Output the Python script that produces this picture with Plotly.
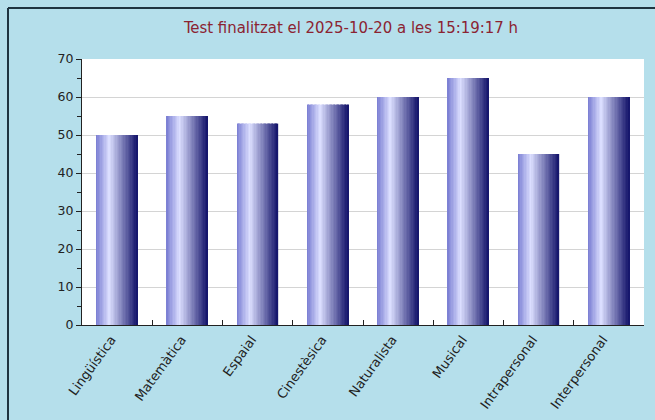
import plotly.graph_objects as go

categories = ["Lingüística", "Matemàtica", "Espaial", "Cinestèsica",
              "Naturalista", "Musical", "Intrapersonal", "Interpersonal"]
values = [50, 55, 53, 58, 60, 65, 45, 60]
title_text = "Test finalitzat el 2025-10-20 a les 15:19:17 h"

W, H = 655, 420
ML, MR, MT, MB = 82, 11, 59, 95

# gradient stops (position, rgb)
stops = [(0.0, (120, 124, 210)), (0.32, (220, 223, 255)), (1.0, (18, 18, 105))]

def col(t):
    for (p0, c0), (p1, c1) in zip(stops[:-1], stops[1:]):
        if p0 <= t <= p1:
            f = (t - p0) / (p1 - p0)
            return "rgb(%d,%d,%d)" % tuple(round(a + (b - a) * f) for a, b in zip(c0, c1))
    return "rgb(%d,%d,%d)" % stops[-1][1]

fig = go.Figure()
bw = 0.585
N = 30
sw = bw / N
for i in range(N):
    fig.add_trace(go.Bar(
        x=categories, y=values,
        width=sw * 1.15 if i < N - 1 else sw,
        offset=-bw / 2 + i * sw,
        marker=dict(color=col((i + 0.5) / N), line=dict(width=0)),
        showlegend=False, hoverinfo="skip",
    ))

pw = W - ML - MR
ph = H - MT - MB
def px(x):
    return (x - ML) / pw
def py(y):
    return (H - MB - y) / ph

fig.update_layout(
    width=W, height=H,
    margin=dict(l=ML, r=MR, t=MT, b=MB),
    barmode="overlay",
    paper_bgcolor="#b5dfeb",
    plot_bgcolor="white",
    font=dict(family="DejaVu Sans", size=12, color="#222222"),
    title=dict(text=title_text, x=px(351), xref="paper", xanchor="center",
               y=1 - 27 / H, yanchor="middle",
               font=dict(family="DejaVu Sans Condensed", size=16.6, color="#8b2331")),
    xaxis=dict(showline=True, linecolor="#222222", linewidth=1,
               ticks="inside", tickson="boundaries", ticklen=5, tickcolor="#222222",
               tickangle=-54, showgrid=False, tickfont=dict(size=13),
               ticklabelshift=-6, ticklabelstandoff=1, automargin=False),
    yaxis=dict(range=[0, 70], dtick=10, showline=True, linecolor="#222222",
               ticks="outside", ticklen=5, tickcolor="#222222",
               showgrid=True, gridcolor="#d4d4d4", gridwidth=1, zeroline=False,
               minor=dict(dtick=5, ticks="outside", ticklen=4, tickcolor="#222222", showgrid=False),
               tickfont=dict(size=12.5), automargin=False),
    shapes=[
        dict(type="line", xref="paper", yref="paper", x0=px(8), x1=px(W + 5),
             y0=py(8), y1=py(8), line=dict(color="#1f3440", width=2)),
        dict(type="line", xref="paper", yref="paper", x0=px(8), x1=px(8),
             y0=py(8), y1=py(H + 5), line=dict(color="#1f3440", width=2)),
    ],
)

fig.write_html("out.html", config={"displayModeBar": False},
               post_script="document.body.style.margin='0';document.body.style.overflow='hidden';")
